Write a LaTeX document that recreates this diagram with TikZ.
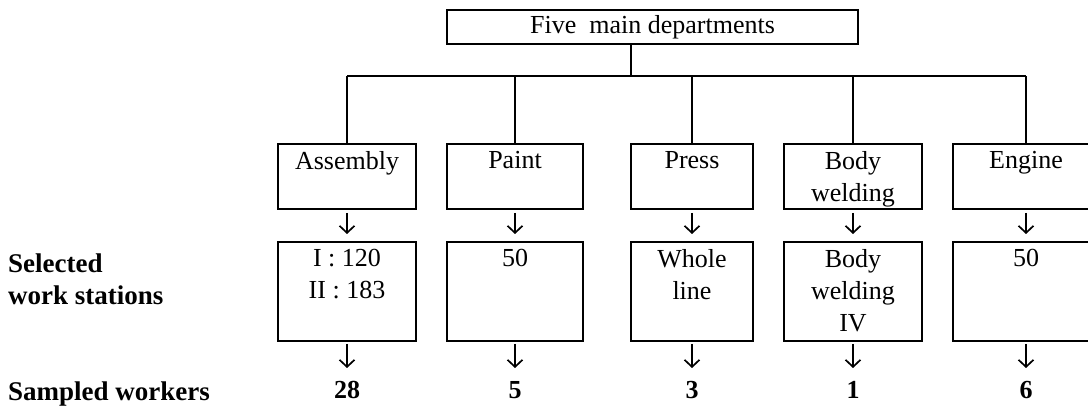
\documentclass[tikz,border=0pt]{standalone}
\usepackage{fontspec}
\setmainfont{Liberation Serif}
\usetikzlibrary{positioning,arrows.meta}

% text hung from the top edge of a box of the given height
\newcommand{\hangtext}[2]{\parbox[c][#1pt][t]{116pt}{\centering\vspace*{7pt}#2}}

\begin{document}
\begin{tikzpicture}[x=1pt,y=-1pt,
    dept/.style={draw,line width=2pt,inner sep=0pt,outer sep=0pt,minimum height=65pt,
      font=\fontsize{26}{32}\selectfont},
    station/.style={dept,minimum height=99pt},
    head/.style={draw,line width=2pt,minimum width=411pt,minimum height=34pt,
      inner sep=0pt,font=\fontsize{26}{32}\selectfont},
    rowname/.style={anchor=west,align=left,inner sep=0pt,
      font=\fontsize{27}{32}\selectfont\bfseries},
    count/.style={inner sep=3pt,font=\fontsize{26}{32}\selectfont\bfseries},
    down/.style={line width=1.7pt,-{Straight Barb[length=7pt,width=15pt]}}]

    \useasboundingbox (0,0) rectangle (1088,411);

    \node[head] (top) at (652.5,27) {Five\ \ main departments};
    \coordinate (bus) at (631,76);

    % Departments
    \node[dept,minimum width=138pt,anchor=north west] (asm) at (278,144) {\hangtext{65}{Assembly}};
    \node[dept,minimum width=136pt,right=31pt of asm] (paint) {\hangtext{65}{Paint}};
    \node[dept,minimum width=122pt,right=48pt of paint] (press) {\hangtext{65}{Press}};
    \node[dept,minimum width=138pt,right=31pt of press] (weld) {\hangtext{65}{Body\\welding}};
    \node[dept,minimum width=146pt,right=31pt of weld] (eng) {\hangtext{65}{Engine}};

    % Selected work stations
    \node[station,minimum width=138pt,below=33pt of asm] (asm-ws) {\hangtext{99}{I : 120\\II : 183}};
    \node[station,minimum width=136pt,below=33pt of paint] (paint-ws) {\hangtext{99}{50}};
    \node[station,minimum width=122pt,below=33pt of press] (press-ws) {\hangtext{99}{Whole\\line}};
    \node[station,minimum width=138pt,below=33pt of weld] (weld-ws) {\hangtext{99}{Body\\welding\\IV}};
    \node[station,minimum width=146pt,below=33pt of eng] (eng-ws) {\hangtext{99}{50}};

    % Sampled workers
    \node[count,below=37pt of asm-ws] (asm-n) {28};
    \node[count,below=37pt of paint-ws] (paint-n) {5};
    \node[count,below=37pt of press-ws] (press-n) {3};
    \node[count,below=37pt of weld-ws] (weld-n) {1};
    \node[count,below=37pt of eng-ws] (eng-n) {6};

    % Row names
    \node[rowname] (sel) at (8,279) {Selected\\work stations};
    \node[rowname] (smp) at (8,394) {Sampled workers};

    % Tree lines
    \draw[line width=2pt] ([xshift=-21.5pt]top.south) -- (bus);
    \draw[line width=2pt] (asm.north |- bus) -- (eng.north |- bus);
    \foreach \d in {asm,paint,press,weld,eng}
      \draw[line width=2pt] (\d.north) -- (\d.north |- bus);

    % Arrows
    \foreach \d in {asm,paint,press,weld,eng} {
      \path[down,shorten <=4pt,shorten >=8pt] (\d) edge (\d-ws);
      \path[down,shorten <=3pt,shorten >=10pt] (\d-ws) edge (\d-n);
    }
\end{tikzpicture}
\end{document}
